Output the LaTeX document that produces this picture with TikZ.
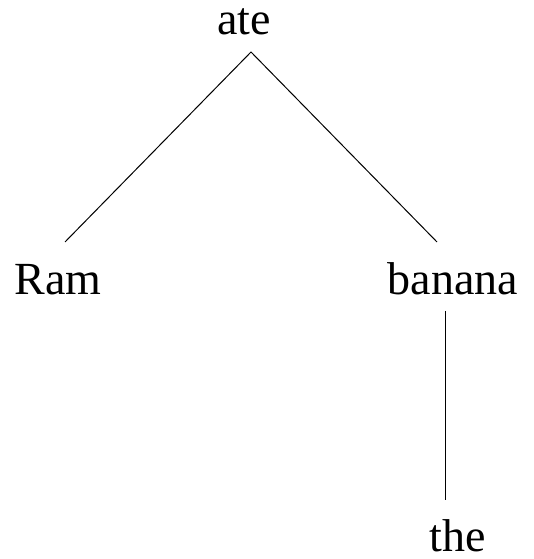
\documentclass[tikz,border=0pt]{standalone}
\usepackage{fontspec}
\setmainfont{Liberation Serif}
\usepackage{tikz}
\usetikzlibrary{positioning,calc}

\begin{document}
\begin{tikzpicture}[x=1pt,y=1pt]
	\tikzset{word/.style={inner sep=0pt,anchor=base,font=\fontsize{46}{55}\selectfont},
		edge/.style={line width=1pt}}
	\useasboundingbox (0,0) rectangle (533,559);
	% cac tu
	\node[word] (ate) at (244,524) {ate};
	\node[word] (ram) at (58,264) {Ram};
	\node[word] (banana) at (453,264) {banana};
	\node[word] (the) at (457.5,7) {the};
	% canh
	\draw[edge] ($(ram.base)+(7,53)$) -- ($(ate.base)+(7,-17)$) -- ($(banana.base)+(-16,53)$);
	\draw[edge] ($(banana.base)+(-8,-16)$) -- ($(the.base)+(-12.5,52)$);
\end{tikzpicture}
\end{document}
